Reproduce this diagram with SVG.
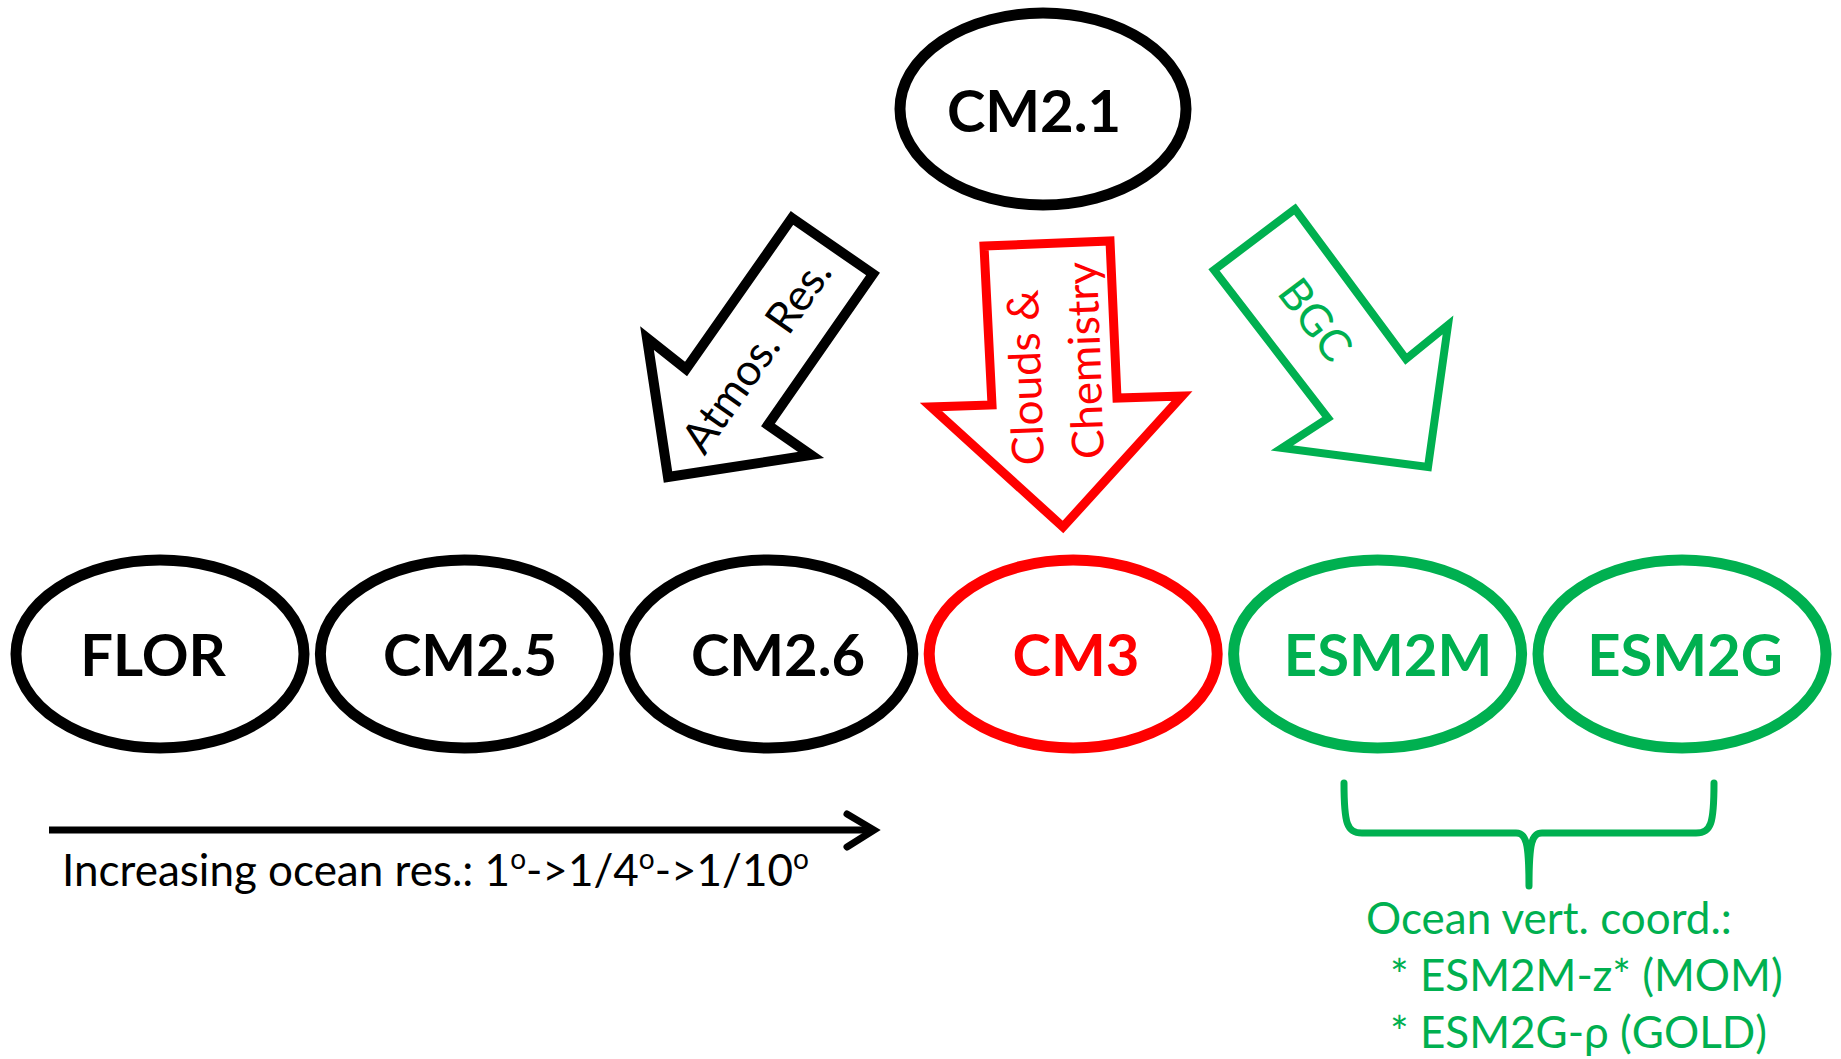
<svg xmlns="http://www.w3.org/2000/svg" width="1841" height="1059" viewBox="0 0 1841 1059">
<style>
.node{fill:#fff;stroke-width:11}
.blk{stroke:#000}
.red{stroke:#FF0000}
.grn{stroke:#00B050}
.lbl{font-family:Lato,"Open Sans","DejaVu Sans",sans-serif;font-weight:bold;font-size:58px;text-anchor:middle}
.txt{font-family:Lato,"Open Sans","DejaVu Sans",sans-serif;font-size:44px}
.arr{fill:#fff;stroke-linejoin:miter}
</style>
<rect width="1841" height="1059" fill="#fff"/>
<g id="connectors">
<g id="arrow-atmos">
<polygon class="arr blk" stroke-width="10" points="792,218 873,274 768,425 811,455 668,477 647,338 686,369"/>
<text class="txt" fill="#000" text-anchor="middle" transform="translate(760,358) rotate(-55)" x="0" y="11">Atmos. Res.</text>
</g>
<g id="arrow-clouds">
<polygon class="arr red" stroke-width="9" points="984,246 1110,241 1117,398 1182,396 1063,527 931,407 992,405"/>
<text class="txt" fill="#FF0000" text-anchor="middle" transform="translate(1041,377) rotate(-92)"><tspan x="0" y="0">Clouds &amp;</tspan><tspan x="15" y="60">Chemistry</tspan></text>
</g>
<g id="arrow-bgc">
<polygon class="arr grn" stroke-width="8" points="1295,209 1214,270 1328,418 1282,448 1428,467 1448,325 1406,359"/>
<text class="txt" fill="#00B050" text-anchor="middle" transform="translate(1315,320) rotate(53)" x="0" y="15">BGC</text>
</g>
<g id="arrow-ocean-res">
<line x1="49" y1="830" x2="872" y2="830" stroke="#000" stroke-width="7"/>
<polyline points="847,814 874,830 847,847" fill="none" stroke="#000" stroke-width="7" stroke-linecap="round"/>
<text class="txt" fill="#000" x="62" y="886">Increasing ocean res.: 1<tspan font-size="28" dy="-17">o</tspan><tspan dy="17">-&gt;1/4</tspan><tspan font-size="28" dy="-17">o</tspan><tspan dy="17">-&gt;1/10</tspan><tspan font-size="28" dy="-17">o</tspan></text>
</g>
<g id="brace">
<path d="M1344,783 C1344,824 1347,833 1362,833 L1516,833 C1526,833 1529,842 1529,886 C1529,842 1532,833 1542,833 L1696,833 C1711,833 1714,824 1714,783" fill="none" stroke="#00B050" stroke-width="7" stroke-linecap="round" stroke-linejoin="round"/>
<text class="txt" fill="#00B050"><tspan x="1366" y="934">Ocean vert. coord.:</tspan><tspan x="1390" y="991">* ESM2M-z* (MOM)</tspan><tspan x="1390" y="1048">* ESM2G-ρ (GOLD)</tspan></text>
</g>
</g>
<g id="node-cm21">
<ellipse class="node blk" cx="1043" cy="109" rx="143" ry="96"/>
<text class="lbl" fill="#000" x="1034" y="132">CM2.1</text>
</g>
<g id="node-flor">
<ellipse class="node blk" cx="160" cy="654" rx="144" ry="94"/>
<text class="lbl" fill="#000" x="153" y="676">FLOR</text>
</g>
<g id="node-cm25">
<ellipse class="node blk" cx="464.4" cy="654" rx="144" ry="94"/>
<text class="lbl" fill="#000" x="470" y="676">CM2.5</text>
</g>
<g id="node-cm26">
<ellipse class="node blk" cx="768.8" cy="654" rx="144" ry="94"/>
<text class="lbl" fill="#000" x="778" y="676">CM2.6</text>
</g>
<g id="node-cm3">
<ellipse class="node red" cx="1073.2" cy="654" rx="144" ry="94"/>
<text class="lbl" fill="#FF0000" x="1076" y="676">CM3</text>
</g>
<g id="node-esm2m">
<ellipse class="node grn" cx="1377.6" cy="654" rx="144" ry="94"/>
<text class="lbl" fill="#00B050" x="1388" y="676">ESM2M</text>
</g>
<g id="node-esm2g">
<ellipse class="node grn" cx="1682" cy="654" rx="144" ry="94"/>
<text class="lbl" fill="#00B050" x="1685" y="676">ESM2G</text>
</g>
</svg>
